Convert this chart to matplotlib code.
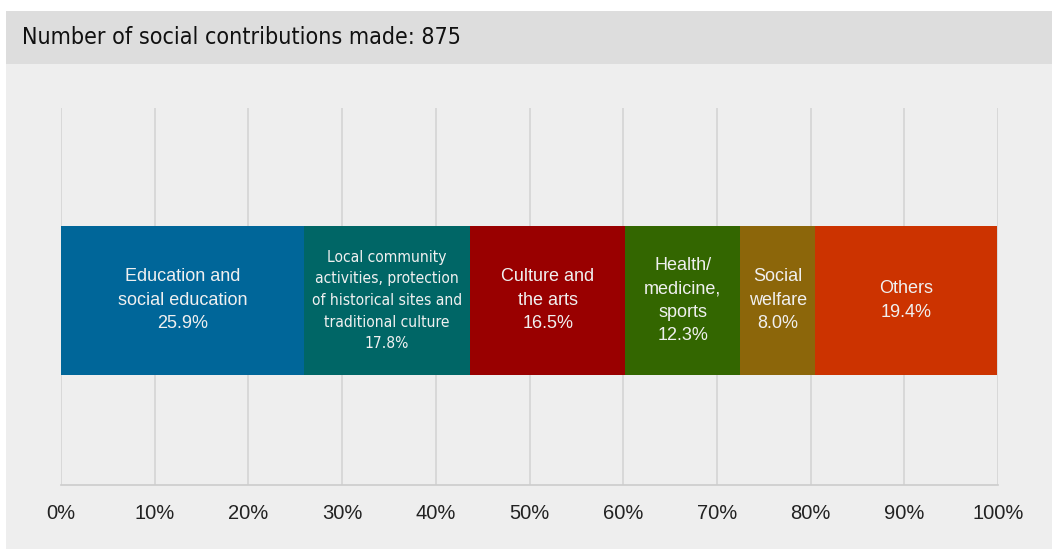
import matplotlib
matplotlib.use("Agg")
import matplotlib.pyplot as plt
from matplotlib.patches import Rectangle

title = "Number of social contributions made: 875"
categories = [
    "Education and\nsocial education",
    "Local community\nactivities, protection\nof historical sites and\ntraditional culture",
    "Culture and\nthe arts",
    "Health/\nmedicine,\nsports",
    "Social\nwelfare",
    "Others",
]
values = [25.9, 17.8, 16.5, 12.3, 8.0, 19.4]
colors = ["#006699", "#006666", "#990000", "#336600", "#8c660a", "#cc3300"]
condensed = [False, True, False, False, False, False]
xticks = [0, 10, 20, 30, 40, 50, 60, 70, 80, 90, 100]
xticklabels = [f"{t}%" for t in xticks]

W, H = 1052, 549
fig = plt.figure(figsize=(W / 100, H / 100), dpi=100, facecolor="white")

# panel backgrounds
fig.patches.append(Rectangle((6 / W, 0), 1 - 6 / W, (H - 11) / H, transform=fig.transFigure,
                             facecolor="#eeeeee", edgecolor="none", zorder=-10))
fig.patches.append(Rectangle((6 / W, (H - 64) / H), 1 - 6 / W, 53 / H, transform=fig.transFigure,
                             facecolor="#dddddd", edgecolor="none", zorder=-9))
fig.text(22 / W, (H - 38) / H, title, fontsize=16.7, color="#111111", va="center", ha="left",
         family="DejaVu Sans", fontstretch="condensed")

ax = fig.add_axes([61 / W, (H - 485) / H, 937 / W, 377 / H])
ax.set_facecolor("none")
ax.set_xlim(0, 100)
ax.set_ylim(0, 1)

left = 0.0
for cat, v, c, cond in zip(categories, values, colors, condensed):
    ax.barh(0.4894, v, left=left, height=0.395, color=c, edgecolor="none", zorder=3)
    if cond:
        ax.text(left + v / 2, 0.4894, f"{cat}\n{v:.1f}%", ha="center", va="center", color="#f0f0f0",
                fontsize=11.2, linespacing=1.56, family="DejaVu Sans", fontstretch="condensed", zorder=4)
    else:
        ax.text(left + v / 2, 0.4894, f"{cat}\n{v:.1f}%", ha="center", va="center", color="#f0f0f0",
                fontsize=13, linespacing=1.5, family=["Liberation Sans", "DejaVu Sans"], zorder=4)
    left += v

ax.set_xticks(xticks)
ax.set_xticklabels(xticklabels, family=["Liberation Sans", "DejaVu Sans"], fontsize=14.5, color="#222222")
ax.set_yticks([])
ax.tick_params(axis="x", length=0, pad=14)
ax.grid(axis="x", color="#d4d4d4", linewidth=1.2, zorder=1)
for s in ["top", "right", "left"]:
    ax.spines[s].set_visible(False)
ax.spines["bottom"].set_color("#cccccc")
ax.spines["bottom"].set_linewidth(1.2)

fig.savefig("out.png", dpi=100, facecolor="white")
